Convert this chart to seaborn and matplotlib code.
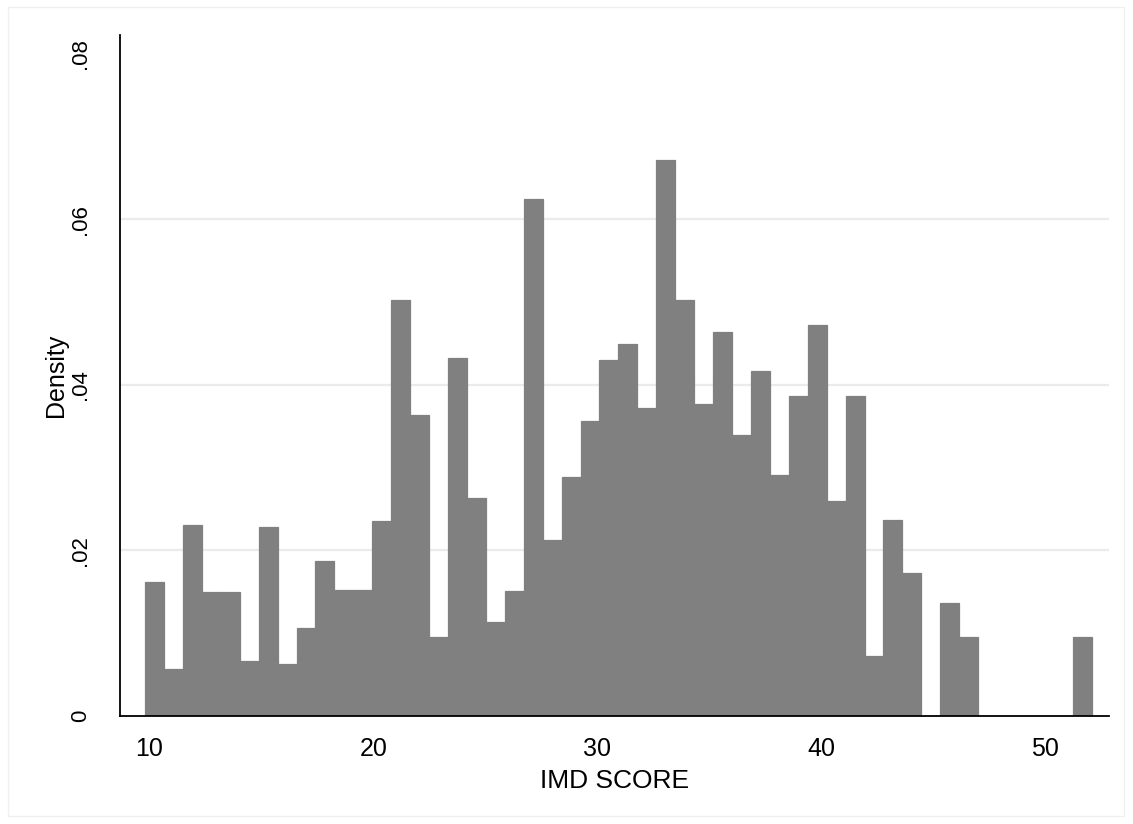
import numpy as np
import pandas as pd
import matplotlib
matplotlib.use("Agg")
import matplotlib.pyplot as plt
import seaborn as sns
from matplotlib.patches import Rectangle

# ---- data ----
bin_start = 9.81
bin_end = 52.09
n_bins = 50
density = [
    0.0162, 0.0056, 0.0230, 0.0149, 0.0149, 0.0066, 0.0228, 0.0063, 0.0106, 0.0187,
    0.0152, 0.0152, 0.0236, 0.0503, 0.0364, 0.0095, 0.0433, 0.0263, 0.0113, 0.0151,
    0.0625, 0.0212, 0.0288, 0.0356, 0.0430, 0.0449, 0.0372, 0.0672, 0.0503, 0.0377,
    0.0464, 0.0339, 0.0417, 0.0291, 0.0387, 0.0472, 0.0260, 0.0387, 0.0072, 0.0237,
    0.0172, 0.0, 0.0136, 0.0095, 0.0, 0.0, 0.0, 0.0, 0.0, 0.0095,
]
x_ticks = [10, 20, 30, 40, 50]
x_ticklabels = ["10", "20", "30", "40", "50"]
y_ticks = [0, 0.02, 0.04, 0.06, 0.08]
y_ticklabels = ["0", ".02", ".04", ".06", ".08"]
x_title = "IMD SCORE"
y_title = "Density"

edges = np.linspace(bin_start, bin_end, n_bins + 1)
centers = (edges[:-1] + edges[1:]) / 2
df = pd.DataFrame({"score": centers, "density": density})

sns.set_style("white")
plt.rcParams["font.family"] = ["Liberation Sans", "DejaVu Sans"]
plt.rcParams["text.color"] = "black"
plt.rcParams["axes.labelcolor"] = "black"

fig = plt.figure(figsize=(11.33, 8.24), dpi=100)
fig.patch.set_facecolor("white")
ax = fig.add_axes([120 / 1133, 1 - 715.7 / 824, (1109 - 120) / 1133, (715.7 - 35) / 824])

bar_color = "#808080"
sns.histplot(data=df, x="score", weights="density", bins=n_bins,
             binrange=(bin_start, bin_end), stat="count",
             color=bar_color, alpha=1, edgecolor=bar_color, linewidth=0.9, ax=ax,
             zorder=2)

ax.set_xlim(8.69, 52.86)
ax.set_ylim(0, 0.0823)

ax.set_xticks(x_ticks)
ax.set_xticklabels(x_ticklabels)
ax.set_yticks(y_ticks)
ax.set_yticklabels(y_ticklabels)

ax.tick_params(axis="both", direction="out", length=8, width=1.2, color="black",
               labelcolor="black")
ax.tick_params(axis="x", pad=7, labelsize=18)
ax.tick_params(axis="y", pad=13, labelsize=16, labelrotation=90)
for lab in ax.get_yticklabels():
    lab.set_va("center")

ax.set_xlabel(x_title, fontsize=19, labelpad=6, color="black")
ax.set_ylabel(y_title, fontsize=18, labelpad=1, color="black")

ax.yaxis.grid(True, color="#ebebeb", linewidth=1.6, zorder=0)
ax.xaxis.grid(False)
ax.set_axisbelow(True)
glines = ax.get_ygridlines()
glines[0].set_visible(False)
glines[-1].set_visible(False)

for side in ["top", "right"]:
    ax.spines[side].set_visible(False)
for side in ["left", "bottom"]:
    ax.spines[side].set_color("black")
    ax.spines[side].set_linewidth(1.3)

# faint outer graph-region border
fig.patches.append(Rectangle((8 / 1133, 1 - 816 / 824), (1124 - 8) / 1133, (816 - 7) / 824,
                             transform=fig.transFigure, fill=False,
                             edgecolor="#f0f0f0", linewidth=1.0))

fig.savefig("out.png", dpi=100, facecolor="white")
